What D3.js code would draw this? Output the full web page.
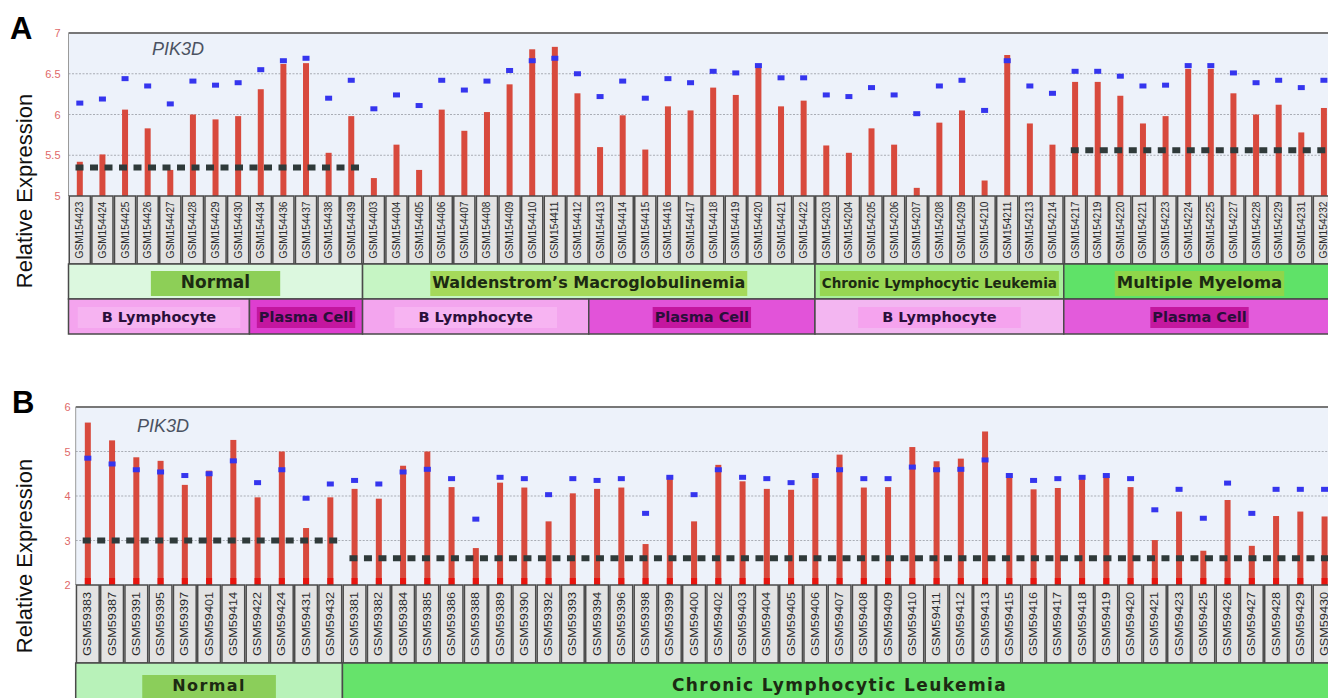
<!DOCTYPE html>
<html>
<head>
<meta charset="UTF-8">
<title>PIK3D relative expression</title>
<script src="https://cdn.jsdelivr.net/npm/d3@7"></script>
<style type="text/css">
	body { margin: 0; background: #fff; }
	svg { display: block; font-family: "Liberation Sans", Arial, sans-serif; }
	.tick text { fill: #e06868; font-size: 11px; }
	.cell text { fill: #2a2a2a; font-size: 10px; }
	.row1 text { fill: #1c2a12; font-family: "DejaVu Sans", sans-serif; font-weight: bold; }
	.row2 text { fill: #2a0f3a; font-family: "DejaVu Sans", sans-serif; font-weight: bold; }
	.ytitle { font-size: 22px; fill: #111; }
	.letter { font-size: 31px; font-weight: bold; fill: #000; }
	.gene { font-size: 18px; font-style: italic; fill: #4b5262; }
</style>
</head>
<body>
<div id="div_main"></div>

<script type="text/javascript">

	// ---- panel A data ----
	var samplesA = ["GSM154423","GSM154424","GSM154425","GSM154426","GSM154427","GSM154428","GSM154429","GSM154430","GSM154434","GSM154436","GSM154437","GSM154438","GSM154439",
		"GSM154403","GSM154404","GSM154405","GSM154406","GSM154407","GSM154408","GSM154409","GSM154410","GSM154411","GSM154412",
		"GSM154413","GSM154414","GSM154415","GSM154416","GSM154417","GSM154418","GSM154419","GSM154420","GSM154421","GSM154422",
		"GSM154203","GSM154204","GSM154205","GSM154206","GSM154207","GSM154208","GSM154209","GSM154210","GSM154211","GSM154213","GSM154214",
		"GSM154217","GSM154219","GSM154220","GSM154221","GSM154223","GSM154224","GSM154225","GSM154227","GSM154228","GSM154229","GSM154231","GSM154232"];
	var barsA = [5.42,5.51,6.06,5.83,5.32,6.00,5.94,5.98,6.31,6.62,6.63,5.53,5.98,
		5.22,5.63,5.32,6.06,5.80,6.03,6.37,6.80,6.83,6.26,
		5.60,5.99,5.57,6.10,6.05,6.33,6.24,6.58,6.10,6.17,
		5.62,5.53,5.83,5.63,5.10,5.90,6.05,5.19,6.73,5.89,5.63,
		6.40,6.40,6.23,5.89,5.98,6.56,6.56,6.26,6.00,6.12,5.78,6.08];
	var dotsA = [6.14,6.19,6.44,6.35,6.13,6.41,6.36,6.39,6.55,6.66,6.69,6.20,6.42,
		6.07,6.24,6.11,6.42,6.30,6.41,6.54,6.66,6.69,6.50,
		6.22,6.41,6.20,6.44,6.39,6.53,6.51,6.60,6.45,6.45,
		6.24,6.22,6.33,6.24,6.01,6.35,6.42,6.05,6.66,6.35,6.26,
		6.53,6.53,6.47,6.35,6.36,6.60,6.60,6.51,6.39,6.42,6.33,6.42];
	var ticksA = [5, 5.5, 6, 6.5, 7];
	// [label, first sample index, end index]
	var diseaseA = [["Normal",0,13],["Waldenstrom\u2019s Macroglobulinemia",13,33],["Chronic Lymphocytic Leukemia",33,44],["Multiple Myeloma",44,56]];
	var cellTypeA = [["B Lymphocyte",0,8],["Plasma Cell",8,13],["B Lymphocyte",13,23],["Plasma Cell",23,33],["B Lymphocyte",33,44],["Plasma Cell",44,56]];
	var meanA = [[5.35,0,13],[5.56,44,56]];

	// ---- panel B data ----
	var samplesB = ["GSM59383","GSM59387","GSM59391","GSM59395","GSM59397","GSM59401","GSM59414","GSM59422","GSM59424","GSM59431","GSM59432",
		"GSM59381","GSM59382","GSM59384","GSM59385","GSM59386","GSM59388","GSM59389","GSM59390","GSM59392","GSM59393",
		"GSM59394","GSM59396","GSM59398","GSM59399","GSM59400","GSM59402","GSM59403","GSM59404","GSM59405","GSM59406",
		"GSM59407","GSM59408","GSM59409","GSM59410","GSM59411","GSM59412","GSM59413","GSM59415","GSM59416","GSM59417",
		"GSM59418","GSM59419","GSM59420","GSM59421","GSM59423","GSM59425","GSM59426","GSM59427","GSM59428","GSM59429","GSM59430"];
	var barsB = [5.65,5.25,4.87,4.79,4.25,4.57,5.26,3.97,5.00,3.28,3.97,
		4.16,3.94,4.68,5.00,4.20,2.83,4.30,4.19,3.43,4.06,
		4.16,4.19,2.92,4.44,3.43,4.70,4.33,4.16,4.14,4.40,
		4.93,4.19,4.20,5.10,4.78,4.84,5.45,4.51,4.15,4.18,
		4.38,4.44,4.20,3.01,3.65,2.77,3.91,2.88,3.55,3.65,3.54];
	var dotsB = [4.85,4.72,4.59,4.54,4.46,4.50,4.79,4.30,4.59,3.95,4.27,
		4.35,4.27,4.54,4.60,4.39,3.48,4.42,4.39,4.03,4.39,
		4.35,4.39,3.61,4.42,4.03,4.59,4.42,4.39,4.30,4.46,
		4.59,4.39,4.39,4.65,4.59,4.60,4.81,4.46,4.35,4.39,
		4.42,4.46,4.39,3.69,4.15,3.50,4.29,3.61,4.15,4.15,4.15];
	var ticksB = [2, 3, 4, 5, 6];
	var diseaseB = [["Normal",0,11],["Chronic Lymphocytic Leukemia",11,52]];
	var meanB = [[3.0,0,11],[2.6,11,52]];

	// ---- drawing ----
	var svg_w = 1328, svg_h = 698;

	var svg = d3.select("#div_main").append("svg")
		.attr("width", svg_w)
		.attr("height", svg_h);

	function drawPanel(p) {
		var g = svg.append("g");
		var n = p.samples.length;

		var scaleX = d3.scaleBand()
			.domain(p.samples)
			.range([p.left, p.left + n * p.colW]);
		var scaleY = d3.scaleLinear()
			.domain([p.ticks[0], p.ticks[p.ticks.length - 1]])
			.range([p.base, p.top]);
		var bw = scaleX.bandwidth();
		var cx = function (i) { return scaleX(p.samples[i]) + bw / 2; };

		// plot background
		g.append("rect")
			.attr("x", p.left).attr("y", p.top)
			.attr("width", svg_w - p.left + 20).attr("height", p.base - p.top)
			.attr("fill", "#edf2fa");

		// dotted grid
		g.selectAll("line.grid")
			.data(p.ticks.slice(1, -1))
			.enter().append("line")
				.attr("class", "grid")
				.attr("x1", p.left).attr("x2", svg_w)
				.attr("y1", function (d) { return scaleY(d); })
				.attr("y2", function (d) { return scaleY(d); })
				.attr("stroke", "#a9adb5").attr("stroke-width", 1)
				.attr("stroke-dasharray", "2,1.5");

		g.append("line")
			.attr("x1", p.left).attr("x2", svg_w)
			.attr("y1", p.top).attr("y2", p.top)
			.attr("stroke", "#777").attr("stroke-width", 2);
		g.append("line")
			.attr("x1", p.left).attr("x2", p.left)
			.attr("y1", p.top).attr("y2", p.base)
			.attr("stroke", "#9a9a9a").attr("stroke-width", 1);

		// y axis
		var axisY = d3.axisLeft(scaleY)
			.tickValues(p.ticks)
			.tickSize(0)
			.tickPadding(p.tickPad)
			.tickFormat(function (d) { return d; });
		g.append("g")
			.attr("transform", "translate(" + p.left + ",0)")
			.call(axisY)
			.call(function (a) { a.select(".domain").remove(); });

		// bars
		g.selectAll("rect.bar")
			.data(p.bars)
			.enter().append("rect")
				.attr("class", "bar")
				.attr("x", function (d, i) { return cx(i) - 3; })
				.attr("y", function (d) { return scaleY(d); })
				.attr("width", 6)
				.attr("height", function (d) { return p.base - scaleY(d); })
				.attr("fill", "#d84a3d");

		if (p.baseMark) {
			g.selectAll("rect.basemark")
				.data(p.bars)
				.enter().append("rect")
					.attr("x", function (d, i) { return cx(i) - 3; })
					.attr("y", p.base - 7)
					.attr("width", 6).attr("height", 7)
					.attr("fill", "#e8140e");
		}

		// group means
		g.selectAll("line.mean")
			.data(p.means)
			.enter().append("line")
				.attr("x1", function (d) { return scaleX(p.samples[d[1]]) + 7; })
				.attr("x2", function (d) { return Math.min(scaleX(p.samples[d[2] - 1]) + bw - 3, svg_w); })
				.attr("y1", function (d) { return scaleY(d[0]); })
				.attr("y2", function (d) { return scaleY(d[0]); })
				.attr("stroke", "#2f3a3a").attr("stroke-width", 6)
				.attr("stroke-dasharray", "8,6.5");

		// blue markers
		g.selectAll("rect.dot")
			.data(p.dots)
			.enter().append("rect")
				.attr("x", function (d, i) { return cx(i) - 3.5; })
				.attr("y", function (d) { return scaleY(d) - 2.5; })
				.attr("width", 7).attr("height", 5)
				.attr("fill", "#3535ee");

		g.append("text")
			.attr("class", "gene")
			.attr("x", p.geneX).attr("y", p.top + p.geneDy)
			.text("PIK3D");

		// sample label cells
		var cells = g.append("g").attr("class", "cell");
		cells.selectAll("rect")
			.data(p.samples)
			.enter().append("rect")
				.attr("x", function (d) { return scaleX(d) + 0.75; })
				.attr("y", p.base)
				.attr("width", bw - 1.5)
				.attr("height", p.cellH)
				.attr("fill", "#e3e3e3")
				.attr("stroke", "#4a4a4a").attr("stroke-width", 1.5);
		cells.selectAll("text")
			.data(p.samples)
			.enter().append("text")
				.attr("transform", function (d) {
					return "translate(" + (scaleX(d) + bw / 2 + 3.5) + "," + (p.base + p.cellH / 2) + ") rotate(-90)";
				})
				.attr("text-anchor", "middle")
				.attr("textLength", p.labelLen)
				.attr("lengthAdjust", "spacingAndGlyphs")
				.text(function (d) { return d; });

		// annotation rows
		p.rows.forEach(function (row) {
			var rg = g.append("g").attr("class", row.cls);
			var spanX = function (d) { return scaleX(p.samples[d[1]]); };
			var spanW = function (d) { return d[2] * p.colW - d[1] * p.colW; };
			rg.selectAll("rect.bg")
				.data(row.data)
				.enter().append("rect")
					.attr("x", spanX)
					.attr("y", row.top)
					.attr("width", spanW)
					.attr("height", row.h)
					.attr("fill", function (d, i) { return row.bg[i]; })
					.attr("stroke", "#4a4a4a").attr("stroke-width", 1.5);
			var hl = rg.selectAll("rect.hl")
				.data(row.data)
				.enter().append("rect");
			var txt = rg.selectAll("text")
				.data(row.data)
				.enter().append("text")
					.attr("x", function (d) { return spanX(d) + spanW(d) / 2; })
					.attr("y", row.top + row.h / 2 + row.fs[0] * 0.36 + (row.dy || 0))
					.attr("text-anchor", "middle")
					.attr("font-size", function (d, i) { return row.fs[i]; })
					.attr("letter-spacing", row.ls || 0)
					.text(function (d) { return d[0]; });
			txt.each(function (d, i) {
				if (!row.hl[i]) return;
				var b = this.getBBox();
				var pad = row.pad[d[0]] || 2;
				d3.select(hl.nodes()[i])
					.attr("x", b.x - pad).attr("width", b.width + 2 * pad)
					.attr("y", row.top + row.hlTop).attr("height", row.hlH)
					.attr("fill", row.hl[i]);
			});
		});

		// panel letter and y title
		svg.append("text").attr("class", "letter")
			.attr("x", p.letterX).attr("y", p.top + 6)
			.text(p.letter);
		svg.append("text").attr("class", "ytitle")
			.attr("text-anchor", "middle")
			.attr("transform", "translate(32," + p.titleY + ") rotate(-90)")
			.text("Relative Expression");
	}

	drawPanel({
		letter: "A", letterX: 10, titleY: 191,
		samples: samplesA, bars: barsA, dots: dotsA, means: meanA, ticks: ticksA,
		left: 68.5, colW: 22.62, top: 33, base: 196, tickPad: 8,
		geneX: 152, geneDy: 22, cellH: 68, labelLen: 57, baseMark: false,
		rows: [
			{ cls: "row1", data: diseaseA, top: 264, h: 35, hlTop: 7, hlH: 25,
			  fs: [17, 16, 13.5, 16.5],
			  bg: ["#dcf8df", "#c6f5c4", "#a9ef9c", "#5fe268"],
			  hl: ["#8dcf57", "#a5d95a", "#97d653", "#8fd64a"],
			  pad: { "Normal": 30 } },
			{ cls: "row2", data: cellTypeA, top: 299, h: 35, hlTop: 8, hlH: 21,
			  fs: [14.5, 14.5, 14.5, 14.5, 14.5, 14.5],
			  bg: ["#f4a4ee", "#de3ed0", "#f3a5ee", "#e253d9", "#f3b6f1", "#e35bdb"],
			  hl: ["#f6b3f1", "#c3169f", "#f7b4f2", "#c4169f", "#f5a3ee", "#c4189f"],
			  pad: { "B Lymphocyte": 24 } }
		]
	});

	drawPanel({
		letter: "B", letterX: 12, titleY: 556,
		samples: samplesB, bars: barsB, dots: dotsB, means: meanB, ticks: ticksB,
		left: 75.7, colW: 24.25, top: 407, base: 585, tickPad: 5,
		geneX: 137, geneDy: 25, cellH: 78, labelLen: 64, baseMark: true,
		rows: [
			{ cls: "row1", data: diseaseB, top: 663, h: 46, hlTop: 12, hlH: 40, dy: -1,
			  fs: [16, 17], ls: 1.4,
			  bg: ["#b8f2b9", "#66e36b"],
			  hl: ["#8bce5a", null],
			  pad: { "Normal": 30 } }
		]
	});

</script>
</body>
</html>
